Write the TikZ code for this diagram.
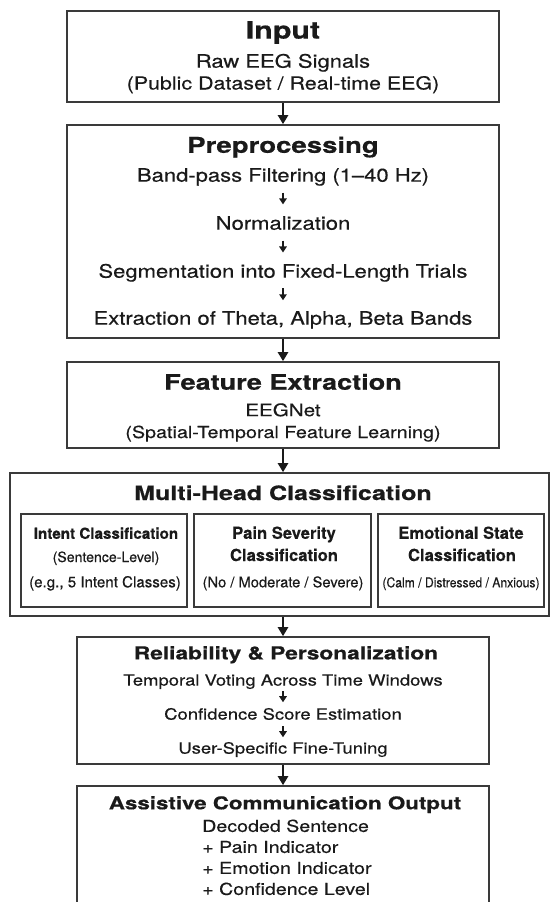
\documentclass[tikz,border=0pt]{standalone}
\usepackage{fontspec}
\usepackage{graphicx}
\setmainfont{TeX Gyre Heros}[FakeStretch=1.19, FakeBold=0.4]
\newfontfamily\titlefont{TeX Gyre Heros}[FakeStretch=1.27, FakeBold=0.6]
\newfontfamily\subfont{TeX Gyre Heros}[FakeBold=0.35]
\usetikzlibrary{arrows.meta}
\definecolor{ink}{HTML}{1A1A1A}
\definecolor{frame}{HTML}{3A3A3A}
\tikzset{
  box/.style={draw=frame, line width=1.6pt, rectangle, inner sep=0pt},
  subbox/.style={draw=frame, line width=1.3pt, rectangle, inner sep=0pt},
  ttl/.style={font=\titlefont\bfseries\fontsize{#1}{#1}\selectfont, text=ink, inner sep=0pt, anchor=base},
  txt/.style={font=\fontsize{#1}{#1}\selectfont, text=ink, inner sep=0pt, anchor=base},
  ltxt/.style={font=\fontsize{#1}{#1}\selectfont, text=ink, inner sep=0pt, anchor=base west},
  sbt/.style={font=\subfont\bfseries\fontsize{#1}{#1}\selectfont, text=ink, inner sep=0pt, anchor=base},
  srt/.style={font=\subfont\fontsize{#1}{#1}\selectfont, text=ink, inner sep=0pt, anchor=base},
  bigarr/.style={draw=ink, line width=2.2pt, -{Triangle[width=10pt,length=9pt]}},
  smallarr/.style={draw=ink, line width=1.8pt, -{Triangle[width=7.5pt,length=6pt]}},
}
\begin{document}
\begin{tikzpicture}[x=1pt,y=1pt]
\useasboundingbox (0,0) rectangle (552,-902);
\clip (0,0) rectangle (552,-902);

% boxes
\node[box, minimum width=432pt, minimum height=91pt] (in) at (283,-56.5) {};
\node[box, minimum width=432pt, minimum height=213pt] (pre) at (283,-231.5) {};
\node[box, minimum width=432pt, minimum height=86pt] (feat) at (283,-405) {};
\node[box, minimum width=539pt, minimum height=143pt] (multi) at (279.5,-544.5) {};
\node[subbox, minimum width=166pt, minimum height=93pt] (s1) at (104,-560.5) {};
\node[subbox, minimum width=177pt, minimum height=93pt] (s2) at (282.5,-560.5) {};
\node[subbox, minimum width=166pt, minimum height=93pt] (s3) at (461,-560.5) {};
\node[box, minimum width=412pt, minimum height=127pt] (rel) at (283,-700.5) {};
\node[box, minimum width=412pt, minimum height=154pt] (out) at (283,-863) {};

% main arrows
\draw[bigarr] (in.south) -- (pre.north);
\draw[bigarr] (pre.south) -- (feat.north);
\draw[bigarr] (feat.south) -- (feat.south |- multi.north);
\draw[bigarr] (rel.north |- multi.south) -- (rel.north);
\draw[bigarr] (rel.south) -- (out.north);

% Input
\node[ttl=23.9] (tin) at (283,-38.6) {Input};
\node[txt=18.5] (raw) at (283,-67.7) {Raw EEG Signals};
\node[txt=18] (pub) at (283,-89.5) {(Public Dataset / Real-time EEG)};

% Preprocessing
\node[ttl=21.7] (tpre) at (283,-152.8) {Preprocessing};
\node[txt=18.5] (bp) at (283,-181.7) {Band-pass Filtering (1–40 Hz)};
\node[txt=18.5] (norm) at (283,-229.7) {Normalization};
\node[txt=18.5] (seg) at (283,-277.7) {Segmentation into Fixed-Length Trials};
\node[txt=18.5] (extr) at (283,-324.7) {Extraction of Theta, Alpha, Beta Bands};
\draw[smallarr, shorten <=6.6pt, shorten >=11.6pt] (bp.south) -- (norm.north);
\draw[smallarr, shorten <=10.4pt, shorten >=11.2pt] (norm.south) -- (seg.north);
\draw[smallarr, shorten <=6.4pt, shorten >=10.7pt] (seg.south) -- (extr.north);

% Feature extraction
\node[ttl=21.3] (tfeat) at (283,-389.7) {Feature Extraction};
\node[txt=17.3] (eeg) at (283,-416.2) {EEGNet};
\node[txt=16.6] (spt) at (283,-438) {(Spatial-Temporal Feature Learning)};

% Multi-head
\node[ttl=19.7] (tmulti) at (283,-500) {Multi-Head Classification};
\node[sbt=15.2] (i1) at (106,-538.8) {Intent Classification};
\node[srt=14.1] (i2) at (106,-562) {(Sentence-Level)};
\node[srt=15.1] (i3) at (105,-587.3) {(e.g., 5 Intent Classes)};
\node[sbt=16.6] (p1) at (284,-538.8) {Pain Severity};
\node[sbt=16.6] (p2) at (284,-561) {Classification};
\node[srt=14.7] (p3) at (283,-587.3) {(No / Moderate / Severe)};
\node[sbt=16.6] (e1) at (461,-538.8) {Emotional State};
\node[sbt=16.6] (e2) at (462,-561) {Classification};
\node[srt=13.5] (e3) at (461,-587.3) {\scalebox{0.9}[1]{(Calm / Distressed / Anxious)}};

% Reliability
\node[ttl=17.9] (trel) at (286,-659.4) {Reliability \& Personalization};
\node[txt=15.5] (tv) at (283,-685.6) {Temporal Voting Across Time Windows};
\node[txt=15.5] (cs) at (283,-719.6) {Confidence Score Estimation};
\node[txt=15.5] (uf) at (283,-753.6) {User-Specific Fine-Tuning};
\draw[smallarr, shorten <=2.3pt, shorten >=5.6pt] (tv.south) -- (cs.north);
\draw[smallarr, shorten <=6.4pt, shorten >=4.6pt] (cs.south) -- (uf.north);

% Output
\node[ttl=17.6] (tout) at (285,-809.3) {Assistive Communication Output};
\node[ltxt=16.5] (dec) at (202,-831.9) {Decoded Sentence};
\node[ltxt=16.5] (pain) at (202,-852.9) {+ Pain Indicator};
\node[ltxt=16.5] (emo) at (202,-873.9) {+ Emotion Indicator};
\node[ltxt=16.5] (conf) at (202,-894.9) {+ Confidence Level};
\end{tikzpicture}
\end{document}
